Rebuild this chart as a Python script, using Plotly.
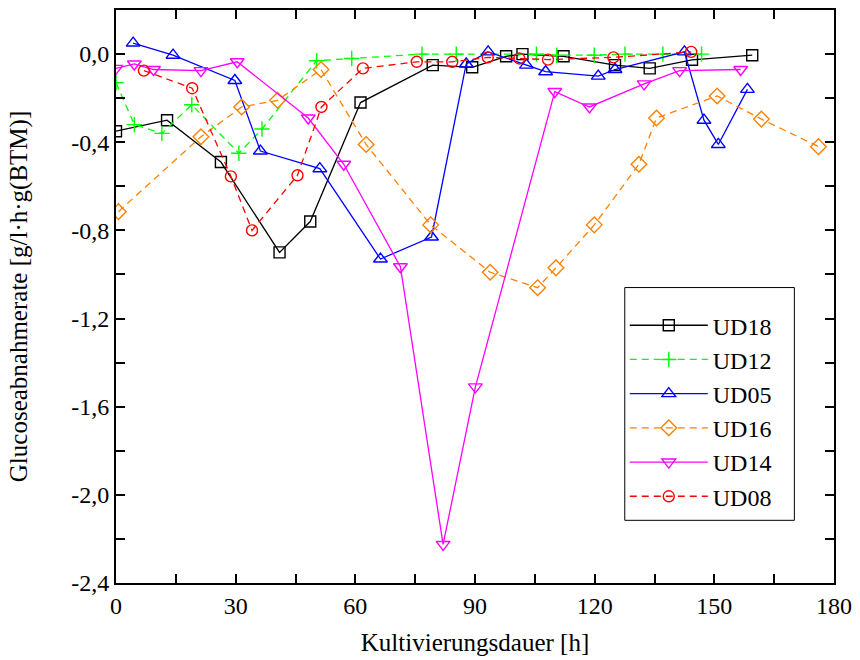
import plotly.graph_objects as go

# Kultivierungsdauer [h] and glucose uptake rate per culture
ud18_t = [0, 12.8, 26.3, 41.0, 48.7, 61.3, 79.4, 89.3, 97.8, 101.9, 112.2, 125.1, 133.8, 144.4, 159.5]
ud18_q = [-0.35, -0.30, -0.49, -0.90, -0.76, -0.22, -0.05, -0.06, -0.01, 0.0, -0.01, -0.05, -0.065, -0.026, -0.005]

ud12_t = [0, 4.6, 11.5, 19.0, 30.8, 36.6, 50.3, 59.1, 76.7, 85.3, 105.4, 110.5, 119.9, 127.6, 137.1, 146.8]
ud12_q = [-0.13, -0.32, -0.36, -0.23, -0.45, -0.34, -0.03, -0.02, 0.0, 0.0, 0.0, -0.005, -0.005, 0.0, 0.0, 0.0]

ud05_t = [4.3, 14.3, 29.8, 36.2, 51.1, 66.3, 79.1, 87.8, 93.3, 102.9, 107.7, 120.9, 125.1, 142.5, 147.4, 151.0, 158.3]
ud05_q = [0.05, -0.005, -0.12, -0.44, -0.52, -0.93, -0.83, -0.045, 0.01, -0.05, -0.08, -0.10, -0.07, 0.01, -0.30, -0.41, -0.16]

ud16_t = [0.6, 21.3, 31.5, 40.5, 51.4, 62.7, 78.9, 93.8, 105.7, 110.3, 119.9, 131.1, 135.5, 150.7, 161.8, 176.1]
ud16_q = [-0.715, -0.375, -0.24, -0.21, -0.07, -0.41, -0.775, -0.99, -1.06, -0.97, -0.775, -0.50, -0.29, -0.19, -0.295, -0.42]

ud14_t = [0, 4.6, 9.4, 21.3, 30.4, 48.2, 57.1, 71.3, 82.0, 90.1, 110.0, 118.7, 132.4, 141.3, 156.6]
ud14_q = [-0.065, -0.045, -0.07, -0.075, -0.035, -0.29, -0.50, -0.965, -2.225, -1.51, -0.17, -0.24, -0.135, -0.075, -0.07]

ud08_t = [7.0, 19.1, 28.8, 34.1, 45.5, 51.5, 61.9, 75.4, 84.3, 93.2, 101.1, 108.3, 124.7, 144.2]
ud08_q = [-0.075, -0.155, -0.555, -0.80, -0.55, -0.24, -0.065, -0.035, -0.035, -0.015, -0.02, -0.025, -0.015, 0.01]

x_ticks = [0, 30, 60, 90, 120, 150, 180]
y_ticks = [0.0, -0.4, -0.8, -1.2, -1.6, -2.0, -2.4]
y_ticktext = ["0,0", "-0,4", "-0,8", "-1,2", "-1,6", "-2,0", "-2,4"]

series = [
    ("UD18", ud18_t, ud18_q, "#000000", "solid", "square-open", 11),
    ("UD12", ud12_t, ud12_q, "#00FF00", "7px,5px", "cross-thin-open", 11),
    ("UD05", ud05_t, ud05_q, "#0000FF", "solid", "triangle-up-open", 12),
    ("UD16", ud16_t, ud16_q, "#FF8000", "7px,5px", "diamond-open", 12),
    ("UD14", ud14_t, ud14_q, "#FF00FF", "solid", "triangle-down-open", 12),
    ("UD08", ud08_t, ud08_q, "#FF0000", "7px,5px", "circle-open", 11),
]

fig = go.Figure()
for name, t, q, col, dash, sym, size in series:
    fig.add_trace(go.Scatter(
        x=t, y=q, name=name, mode="lines+markers",
        line=dict(color=col, width=1.3, dash=dash),
        marker=dict(symbol=sym, size=size, color=col, line=dict(color=col, width=1.4)),
    ))

serif = 'Liberation Serif, "Times New Roman", Times, serif'
axis_common = dict(
    showline=True, linecolor="black", linewidth=2, mirror="allticks",
    ticks="inside", ticklen=9, tickwidth=1.5, tickcolor="black",
    showgrid=False, zeroline=False,
    tickfont=dict(family=serif, size=24, color="black"),
)

# framed white panel behind the legend entries
fig.add_shape(type="rect", xref="paper", yref="paper",
              x0=0.7086, x1=0.9448, y0=0.1094, y1=0.5156,
              fillcolor="white", line=dict(color="black", width=1), layer="above")

fig.update_layout(
    width=860, height=660,
    margin=dict(l=116, r=20, t=8, b=76),
    paper_bgcolor="white", plot_bgcolor="white",
    font=dict(family=serif, color="black"),
    xaxis=dict(range=[0, 180], tickvals=x_ticks,
               minor=dict(dtick=15, ticklen=9, tickwidth=1.5, tickcolor="black", ticks="inside"),
               title=dict(text="Kultivierungsdauer [h]", font=dict(family=serif, size=25), standoff=16),
               **axis_common),
    yaxis=dict(range=[-2.4, 0.2], tickvals=y_ticks, ticktext=y_ticktext,
               minor=dict(dtick=0.2, tick0=0, ticklen=9, tickwidth=1.5, tickcolor="black", ticks="inside"),
               title=dict(text="Glucoseabnahmerate [g/l·h·g(BTM)]", font=dict(family=serif, size=25), standoff=36),
               **axis_common),
    legend=dict(x=0.7086, y=0.5156, xanchor="left", yanchor="top",
                bgcolor="rgba(0,0,0,0)", borderwidth=0,
                font=dict(family=serif, size=24, color="black"),
                title=dict(text=" ", font=dict(size=12)),
                itemwidth=78, tracegroupgap=0),
    showlegend=True,
)

fig.write_html("out.html")
